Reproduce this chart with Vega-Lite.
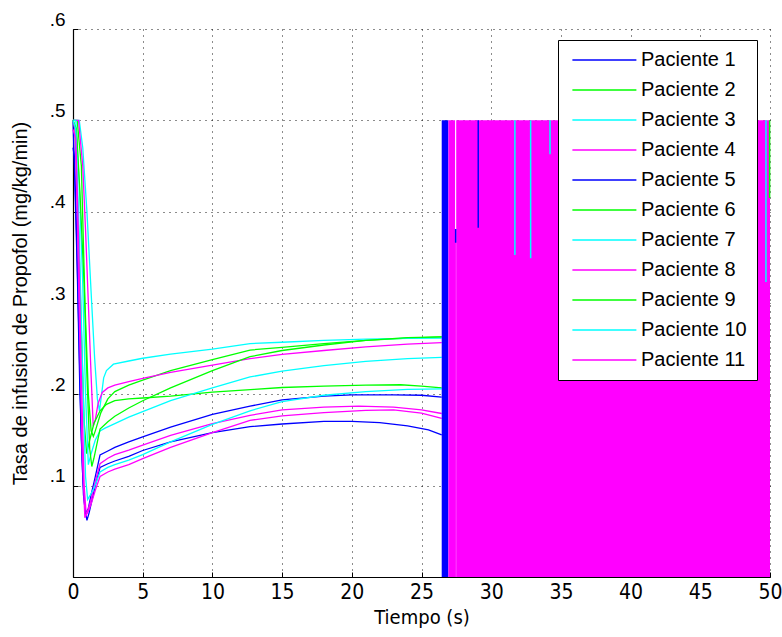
{
  "$schema": "https://vega.github.io/schema/vega-lite/v6.json",
  "width": 697,
  "height": 548,
  "autosize": {"type": "none"},
  "padding": {"left": 73, "top": 29, "right": 12, "bottom": 60},
  "background": "#ffffff",
  "config": {
    "view": {"stroke": null},
    "axis": {
      "domainColor": "#000000",
      "domainWidth": 1.2,
      "ticks": true,
      "tickSize": -5,
      "tickColor": "#000000",
      "tickWidth": 1,
      "grid": true,
      "gridColor": "#000000",
      "gridDash": [1, 5],
      "gridWidth": 1,
      "gridOpacity": 0.9,
      "labelColor": "#000000",
      "labelFlush": false,
      "titleColor": "#000000",
      "titleFontWeight": "normal"
    }
  },
  "datasets": {
    "curves": [
      {"p": "Paciente 1", "t": 0, "v": 0.47}, {"p": "Paciente 1", "t": 0.1, "v": 0.46}, {"p": "Paciente 1", "t": 0.25, "v": 0.38}, {"p": "Paciente 1", "t": 0.45, "v": 0.25}, {"p": "Paciente 1", "t": 0.6, "v": 0.15}, {"p": "Paciente 1", "t": 0.75, "v": 0.09}, {"p": "Paciente 1", "t": 0.9, "v": 0.07}, {"p": "Paciente 1", "t": 1.1, "v": 0.075}, {"p": "Paciente 1", "t": 1.3, "v": 0.09}, {"p": "Paciente 1", "t": 1.6, "v": 0.11}, {"p": "Paciente 1", "t": 1.94, "v": 0.1336}, {"p": "Paciente 1", "t": 2.5, "v": 0.138}, {"p": "Paciente 1", "t": 3, "v": 0.142}, {"p": "Paciente 1", "t": 4, "v": 0.148}, {"p": "Paciente 1", "t": 5, "v": 0.1535}, {"p": "Paciente 1", "t": 7, "v": 0.164}, {"p": "Paciente 1", "t": 10, "v": 0.178}, {"p": "Paciente 1", "t": 12.7, "v": 0.187}, {"p": "Paciente 1", "t": 15, "v": 0.194}, {"p": "Paciente 1", "t": 18, "v": 0.198}, {"p": "Paciente 1", "t": 20, "v": 0.1995}, {"p": "Paciente 1", "t": 23, "v": 0.1995}, {"p": "Paciente 1", "t": 25, "v": 0.199}, {"p": "Paciente 1", "t": 26.45, "v": 0.197},

      {"p": "Paciente 2", "t": 0, "v": 0.5}, {"p": "Paciente 2", "t": 0.3, "v": 0.5}, {"p": "Paciente 2", "t": 0.6, "v": 0.45}, {"p": "Paciente 2", "t": 0.86, "v": 0.3}, {"p": "Paciente 2", "t": 1.1, "v": 0.2}, {"p": "Paciente 2", "t": 1.3, "v": 0.16}, {"p": "Paciente 2", "t": 1.46, "v": 0.154}, {"p": "Paciente 2", "t": 1.6, "v": 0.16}, {"p": "Paciente 2", "t": 2.0, "v": 0.18}, {"p": "Paciente 2", "t": 2.5, "v": 0.195}, {"p": "Paciente 2", "t": 3, "v": 0.203}, {"p": "Paciente 2", "t": 4, "v": 0.21}, {"p": "Paciente 2", "t": 5, "v": 0.2155}, {"p": "Paciente 2", "t": 7, "v": 0.226}, {"p": "Paciente 2", "t": 10, "v": 0.238}, {"p": "Paciente 2", "t": 12.7, "v": 0.2485}, {"p": "Paciente 2", "t": 15, "v": 0.2515}, {"p": "Paciente 2", "t": 18, "v": 0.2555}, {"p": "Paciente 2", "t": 21, "v": 0.259}, {"p": "Paciente 2", "t": 24, "v": 0.2615}, {"p": "Paciente 2", "t": 26.45, "v": 0.263},

      {"p": "Paciente 3", "t": 0, "v": 0.5}, {"p": "Paciente 3", "t": 0.45, "v": 0.5}, {"p": "Paciente 3", "t": 0.7, "v": 0.47}, {"p": "Paciente 3", "t": 1.0, "v": 0.4}, {"p": "Paciente 3", "t": 1.34, "v": 0.3}, {"p": "Paciente 3", "t": 1.55, "v": 0.24}, {"p": "Paciente 3", "t": 1.75, "v": 0.195}, {"p": "Paciente 3", "t": 1.9, "v": 0.182}, {"p": "Paciente 3", "t": 2.05, "v": 0.2}, {"p": "Paciente 3", "t": 2.2, "v": 0.218}, {"p": "Paciente 3", "t": 2.4, "v": 0.226}, {"p": "Paciente 3", "t": 2.9, "v": 0.233}, {"p": "Paciente 3", "t": 4, "v": 0.2365}, {"p": "Paciente 3", "t": 5, "v": 0.2395}, {"p": "Paciente 3", "t": 7, "v": 0.244}, {"p": "Paciente 3", "t": 10, "v": 0.2495}, {"p": "Paciente 3", "t": 12.7, "v": 0.2555}, {"p": "Paciente 3", "t": 15, "v": 0.257}, {"p": "Paciente 3", "t": 18, "v": 0.259}, {"p": "Paciente 3", "t": 21, "v": 0.2605}, {"p": "Paciente 3", "t": 24, "v": 0.2612}, {"p": "Paciente 3", "t": 26.45, "v": 0.2615},

      {"p": "Paciente 4", "t": 0, "v": 0.5}, {"p": "Paciente 4", "t": 0.4, "v": 0.5}, {"p": "Paciente 4", "t": 0.7, "v": 0.45}, {"p": "Paciente 4", "t": 0.9, "v": 0.38}, {"p": "Paciente 4", "t": 1.1, "v": 0.3}, {"p": "Paciente 4", "t": 1.3, "v": 0.22}, {"p": "Paciente 4", "t": 1.45, "v": 0.165}, {"p": "Paciente 4", "t": 1.6, "v": 0.172}, {"p": "Paciente 4", "t": 1.8, "v": 0.19}, {"p": "Paciente 4", "t": 2.1, "v": 0.202}, {"p": "Paciente 4", "t": 2.5, "v": 0.207}, {"p": "Paciente 4", "t": 3, "v": 0.21}, {"p": "Paciente 4", "t": 4, "v": 0.214}, {"p": "Paciente 4", "t": 5, "v": 0.2175}, {"p": "Paciente 4", "t": 7, "v": 0.224}, {"p": "Paciente 4", "t": 10, "v": 0.232}, {"p": "Paciente 4", "t": 12.7, "v": 0.239}, {"p": "Paciente 4", "t": 15, "v": 0.2438}, {"p": "Paciente 4", "t": 18, "v": 0.248}, {"p": "Paciente 4", "t": 21, "v": 0.252}, {"p": "Paciente 4", "t": 24, "v": 0.255}, {"p": "Paciente 4", "t": 26.45, "v": 0.2566},

      {"p": "Paciente 5", "t": 0, "v": 0.5}, {"p": "Paciente 5", "t": 0.1, "v": 0.45}, {"p": "Paciente 5", "t": 0.3, "v": 0.34}, {"p": "Paciente 5", "t": 0.5, "v": 0.2}, {"p": "Paciente 5", "t": 0.7, "v": 0.11}, {"p": "Paciente 5", "t": 0.85, "v": 0.075}, {"p": "Paciente 5", "t": 1.0, "v": 0.062}, {"p": "Paciente 5", "t": 1.15, "v": 0.07}, {"p": "Paciente 5", "t": 1.3, "v": 0.08}, {"p": "Paciente 5", "t": 1.6, "v": 0.1}, {"p": "Paciente 5", "t": 1.94, "v": 0.12}, {"p": "Paciente 5", "t": 2.5, "v": 0.124}, {"p": "Paciente 5", "t": 3, "v": 0.127}, {"p": "Paciente 5", "t": 4, "v": 0.132}, {"p": "Paciente 5", "t": 5, "v": 0.1385}, {"p": "Paciente 5", "t": 7, "v": 0.148}, {"p": "Paciente 5", "t": 10, "v": 0.158}, {"p": "Paciente 5", "t": 12.7, "v": 0.1646}, {"p": "Paciente 5", "t": 15, "v": 0.1675}, {"p": "Paciente 5", "t": 18, "v": 0.1705}, {"p": "Paciente 5", "t": 20, "v": 0.1705}, {"p": "Paciente 5", "t": 22, "v": 0.169}, {"p": "Paciente 5", "t": 24, "v": 0.1655}, {"p": "Paciente 5", "t": 25.5, "v": 0.161}, {"p": "Paciente 5", "t": 26.45, "v": 0.1555},

      {"p": "Paciente 6", "t": 0, "v": 0.5}, {"p": "Paciente 6", "t": 0.15, "v": 0.49}, {"p": "Paciente 6", "t": 0.4, "v": 0.38}, {"p": "Paciente 6", "t": 0.6, "v": 0.27}, {"p": "Paciente 6", "t": 0.8, "v": 0.17}, {"p": "Paciente 6", "t": 0.98, "v": 0.135}, {"p": "Paciente 6", "t": 1.2, "v": 0.15}, {"p": "Paciente 6", "t": 1.5, "v": 0.168}, {"p": "Paciente 6", "t": 1.94, "v": 0.182}, {"p": "Paciente 6", "t": 2.4, "v": 0.189}, {"p": "Paciente 6", "t": 3, "v": 0.193}, {"p": "Paciente 6", "t": 4, "v": 0.195}, {"p": "Paciente 6", "t": 5, "v": 0.196}, {"p": "Paciente 6", "t": 7, "v": 0.198}, {"p": "Paciente 6", "t": 10, "v": 0.2025}, {"p": "Paciente 6", "t": 13, "v": 0.2055}, {"p": "Paciente 6", "t": 15, "v": 0.2075}, {"p": "Paciente 6", "t": 18, "v": 0.209}, {"p": "Paciente 6", "t": 21, "v": 0.21}, {"p": "Paciente 6", "t": 23.5, "v": 0.2105}, {"p": "Paciente 6", "t": 25, "v": 0.209}, {"p": "Paciente 6", "t": 26.45, "v": 0.207},

      {"p": "Paciente 7", "t": 0, "v": 0.5}, {"p": "Paciente 7", "t": 0.2, "v": 0.5}, {"p": "Paciente 7", "t": 0.45, "v": 0.43}, {"p": "Paciente 7", "t": 0.7, "v": 0.32}, {"p": "Paciente 7", "t": 0.9, "v": 0.2}, {"p": "Paciente 7", "t": 1.1, "v": 0.123}, {"p": "Paciente 7", "t": 1.3, "v": 0.135}, {"p": "Paciente 7", "t": 1.6, "v": 0.15}, {"p": "Paciente 7", "t": 1.94, "v": 0.16}, {"p": "Paciente 7", "t": 2.3, "v": 0.163}, {"p": "Paciente 7", "t": 3, "v": 0.168}, {"p": "Paciente 7", "t": 4, "v": 0.175}, {"p": "Paciente 7", "t": 5, "v": 0.181}, {"p": "Paciente 7", "t": 7, "v": 0.193}, {"p": "Paciente 7", "t": 10, "v": 0.207}, {"p": "Paciente 7", "t": 12.7, "v": 0.219}, {"p": "Paciente 7", "t": 15, "v": 0.2255}, {"p": "Paciente 7", "t": 18, "v": 0.2315}, {"p": "Paciente 7", "t": 21, "v": 0.236}, {"p": "Paciente 7", "t": 24, "v": 0.239}, {"p": "Paciente 7", "t": 26.45, "v": 0.2405},

      {"p": "Paciente 8", "t": 0, "v": 0.5}, {"p": "Paciente 8", "t": 0.15, "v": 0.49}, {"p": "Paciente 8", "t": 0.3, "v": 0.4}, {"p": "Paciente 8", "t": 0.5, "v": 0.25}, {"p": "Paciente 8", "t": 0.65, "v": 0.14}, {"p": "Paciente 8", "t": 0.85, "v": 0.065}, {"p": "Paciente 8", "t": 1.0, "v": 0.07}, {"p": "Paciente 8", "t": 1.3, "v": 0.085}, {"p": "Paciente 8", "t": 1.6, "v": 0.105}, {"p": "Paciente 8", "t": 1.94, "v": 0.124}, {"p": "Paciente 8", "t": 2.5, "v": 0.13}, {"p": "Paciente 8", "t": 3, "v": 0.134}, {"p": "Paciente 8", "t": 4, "v": 0.139}, {"p": "Paciente 8", "t": 5, "v": 0.1445}, {"p": "Paciente 8", "t": 7, "v": 0.155}, {"p": "Paciente 8", "t": 10, "v": 0.168}, {"p": "Paciente 8", "t": 12.7, "v": 0.177}, {"p": "Paciente 8", "t": 15, "v": 0.183}, {"p": "Paciente 8", "t": 18, "v": 0.186}, {"p": "Paciente 8", "t": 20.5, "v": 0.187}, {"p": "Paciente 8", "t": 23, "v": 0.186}, {"p": "Paciente 8", "t": 25, "v": 0.183}, {"p": "Paciente 8", "t": 26.45, "v": 0.179},

      {"p": "Paciente 9", "t": 0, "v": 0.5}, {"p": "Paciente 9", "t": 0.25, "v": 0.49}, {"p": "Paciente 9", "t": 0.5, "v": 0.42}, {"p": "Paciente 9", "t": 0.8, "v": 0.32}, {"p": "Paciente 9", "t": 1.0, "v": 0.22}, {"p": "Paciente 9", "t": 1.2, "v": 0.14}, {"p": "Paciente 9", "t": 1.35, "v": 0.121}, {"p": "Paciente 9", "t": 1.5, "v": 0.13}, {"p": "Paciente 9", "t": 1.94, "v": 0.162}, {"p": "Paciente 9", "t": 2.5, "v": 0.17}, {"p": "Paciente 9", "t": 3, "v": 0.176}, {"p": "Paciente 9", "t": 4, "v": 0.185}, {"p": "Paciente 9", "t": 5, "v": 0.193}, {"p": "Paciente 9", "t": 7, "v": 0.207}, {"p": "Paciente 9", "t": 10, "v": 0.226}, {"p": "Paciente 9", "t": 12.7, "v": 0.2412}, {"p": "Paciente 9", "t": 15, "v": 0.248}, {"p": "Paciente 9", "t": 18, "v": 0.254}, {"p": "Paciente 9", "t": 21, "v": 0.259}, {"p": "Paciente 9", "t": 24, "v": 0.262}, {"p": "Paciente 9", "t": 26.45, "v": 0.263},

      {"p": "Paciente 10", "t": 0, "v": 0.5}, {"p": "Paciente 10", "t": 0.2, "v": 0.49}, {"p": "Paciente 10", "t": 0.45, "v": 0.37}, {"p": "Paciente 10", "t": 0.7, "v": 0.22}, {"p": "Paciente 10", "t": 0.9, "v": 0.11}, {"p": "Paciente 10", "t": 1.05, "v": 0.085}, {"p": "Paciente 10", "t": 1.25, "v": 0.09}, {"p": "Paciente 10", "t": 1.5, "v": 0.097}, {"p": "Paciente 10", "t": 1.94, "v": 0.115}, {"p": "Paciente 10", "t": 2.5, "v": 0.12}, {"p": "Paciente 10", "t": 3, "v": 0.123}, {"p": "Paciente 10", "t": 4, "v": 0.128}, {"p": "Paciente 10", "t": 5, "v": 0.134}, {"p": "Paciente 10", "t": 7, "v": 0.148}, {"p": "Paciente 10", "t": 10, "v": 0.167}, {"p": "Paciente 10", "t": 12.7, "v": 0.182}, {"p": "Paciente 10", "t": 15, "v": 0.192}, {"p": "Paciente 10", "t": 18, "v": 0.199}, {"p": "Paciente 10", "t": 21, "v": 0.203}, {"p": "Paciente 10", "t": 24, "v": 0.2055}, {"p": "Paciente 10", "t": 26.45, "v": 0.206},

      {"p": "Paciente 11", "t": 0, "v": 0.49}, {"p": "Paciente 11", "t": 0.2, "v": 0.48}, {"p": "Paciente 11", "t": 0.4, "v": 0.37}, {"p": "Paciente 11", "t": 0.6, "v": 0.22}, {"p": "Paciente 11", "t": 0.8, "v": 0.1}, {"p": "Paciente 11", "t": 0.95, "v": 0.068}, {"p": "Paciente 11", "t": 1.1, "v": 0.072}, {"p": "Paciente 11", "t": 1.3, "v": 0.08}, {"p": "Paciente 11", "t": 1.6, "v": 0.095}, {"p": "Paciente 11", "t": 1.94, "v": 0.11}, {"p": "Paciente 11", "t": 2.5, "v": 0.115}, {"p": "Paciente 11", "t": 3, "v": 0.118}, {"p": "Paciente 11", "t": 4, "v": 0.123}, {"p": "Paciente 11", "t": 5, "v": 0.1295}, {"p": "Paciente 11", "t": 7, "v": 0.142}, {"p": "Paciente 11", "t": 10, "v": 0.158}, {"p": "Paciente 11", "t": 12.7, "v": 0.1715}, {"p": "Paciente 11", "t": 15, "v": 0.1765}, {"p": "Paciente 11", "t": 18, "v": 0.18}, {"p": "Paciente 11", "t": 21, "v": 0.1825}, {"p": "Paciente 11", "t": 23, "v": 0.183}, {"p": "Paciente 11", "t": 25, "v": 0.1795}, {"p": "Paciente 11", "t": 26.45, "v": 0.1737}
    ],
    "chatter": [
      {"p": "Paciente 5", "t1": 26.45, "t2": 26.93, "lo": 0, "hi": 0.5},
      {"p": "Paciente 11", "t1": 26.93, "t2": 27.41, "lo": 0, "hi": 0.5},
      {"p": "Paciente 11", "t1": 27.41, "t2": 27.49, "lo": 0, "hi": 0.368},
      {"p": "Paciente 11", "t1": 27.49, "t2": 50, "lo": 0, "hi": 0.5}
    ],
    "spikes": [
      {"p": "Paciente 1", "t": 27.45, "lo": 0.366, "hi": 0.381},
      {"p": "Paciente 1", "t": 29.07, "lo": 0.3825, "hi": 0.5},
      {"p": "Paciente 10", "t": 31.7, "lo": 0.3526, "hi": 0.5},
      {"p": "Paciente 3", "t": 32.83, "lo": 0.349, "hi": 0.5},
      {"p": "Paciente 7", "t": 34.22, "lo": 0.463, "hi": 0.5},
      {"p": "Paciente 10", "t": 49.71, "lo": 0.323, "hi": 0.5},
      {"p": "Paciente 2", "t": 49.97, "lo": 0.415, "hi": 0.5}
    ]
  },
  "encoding": {
    "x": {
      "type": "quantitative",
      "scale": {"domain": [0, 50], "nice": false},
      "axis": {
        "title": "Tiempo (s)",
        "values": [0, 5, 10, 15, 20, 25, 30, 35, 40, 45, 50],
        "labelFont": "DejaVu Sans Condensed, Liberation Sans Narrow, Liberation Sans, sans-serif",
        "labelFontSize": 21,
        "labelPadding": 9,
        "titleFont": "DejaVu Sans Condensed, Liberation Sans Narrow, Liberation Sans, sans-serif",
        "titleFontSize": 20,
        "titlePadding": 5
      }
    },
    "y": {
      "type": "quantitative",
      "scale": {"domain": [0, 0.6], "nice": false},
      "axis": {
        "title": "Tasa de infusion de Propofol (mg/kg/min)",
        "values": [0, 0.1, 0.2, 0.3, 0.4, 0.5, 0.6],
        "labelExpr": "datum.value == 0 ? '' : replace(format(datum.value, '.1f'), '0.', '.')",
        "labelFont": "Liberation Sans",
        "labelFontSize": 19,
        "labelOffset": -10,
        "labelPadding": 13,
        "titleFont": "Liberation Sans",
        "titleFontSize": 20,
        "titlePadding": 19
      }
    }
  },
  "layer": [
    {
      "data": {"name": "curves"},
      "mark": {"type": "line", "strokeWidth": 1.3, "interpolate": "linear"},
      "encoding": {
        "x": {"field": "t", "type": "quantitative"},
        "y": {"field": "v", "type": "quantitative"},
        "color": {
          "field": "p",
          "type": "nominal",
          "scale": {
            "domain": ["Paciente 1", "Paciente 2", "Paciente 3", "Paciente 4", "Paciente 5", "Paciente 6", "Paciente 7", "Paciente 8", "Paciente 9", "Paciente 10", "Paciente 11"],
            "range": ["#0000ff", "#00ff00", "#00ffff", "#ff00ff", "#0000ff", "#00ff00", "#00ffff", "#ff00ff", "#00ff00", "#00ffff", "#ff00ff"]
          },
          "legend": {
            "title": null,
            "orient": "none",
            "legendX": 485,
            "legendY": 11,
            "symbolType": "M-0.7,0H7.3",
            "symbolSize": 256,
            "symbolStrokeWidth": 1.5,
            "labelFont": "Liberation Sans",
            "labelFontSize": 20,
            "labelColor": "#000000",
            "labelOffset": 53,
            "rowPadding": 10,
            "padding": 10,
            "strokeColor": "#000000",
            "fillColor": "#ffffff"
          }
        }
      }
    },
    {
      "data": {"name": "chatter"},
      "mark": {"type": "rect"},
      "encoding": {
        "x": {"field": "t1", "type": "quantitative"},
        "x2": {"field": "t2"},
        "y": {"field": "lo", "type": "quantitative"},
        "y2": {"field": "hi"},
        "color": {"field": "p", "type": "nominal"}
      }
    },
    {
      "data": {"name": "spikes"},
      "mark": {"type": "rule", "strokeWidth": 1.5},
      "encoding": {
        "x": {"field": "t", "type": "quantitative"},
        "y": {"field": "lo", "type": "quantitative"},
        "y2": {"field": "hi"},
        "color": {"field": "p", "type": "nominal"}
      }
    }
  ]
}
